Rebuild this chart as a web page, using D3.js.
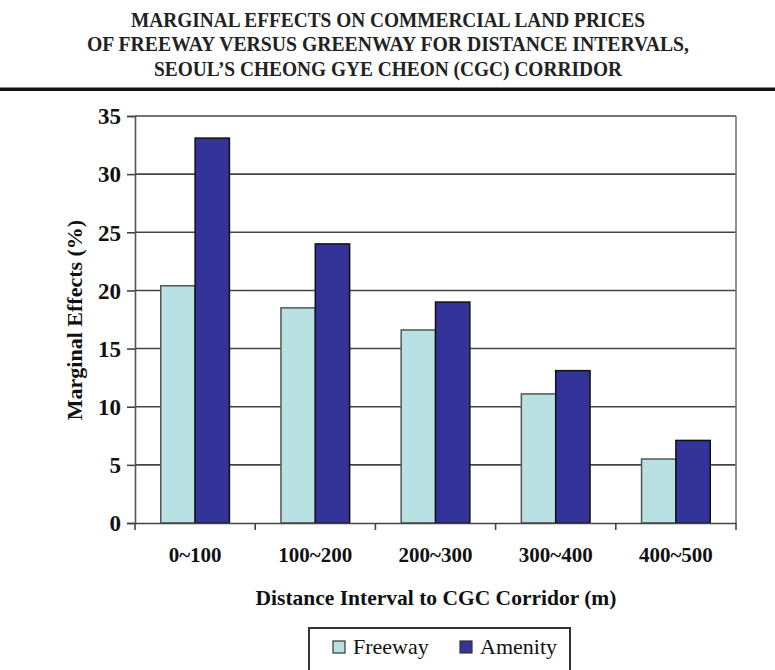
<!DOCTYPE html>
<html>
<head>
<meta charset="utf-8">
<script src="https://cdn.jsdelivr.net/npm/d3@7"></script>
<style>
  html, body { margin: 0; padding: 0; background: #fff; }
  svg { display: block; }
</style>
</head>
<body>
<svg id="chart" width="775" height="670"></svg>
<script>
const titleLines = [
  "MARGINAL EFFECTS ON COMMERCIAL LAND PRICES",
  "OF FREEWAY VERSUS GREENWAY FOR DISTANCE INTERVALS,",
  "SEOUL\u2019S CHEONG GYE CHEON (CGC) CORRIDOR"
];
const categories = ["0~100", "100~200", "200~300", "300~400", "400~500"];
const seriesNames = ["Freeway", "Amenity"];
const freeway = [20.4, 18.5, 16.6, 11.1, 5.5];
const amenity = [33.1, 24.0, 19.0, 13.1, 7.1];
const yTicks = [0, 5, 10, 15, 20, 25, 30, 35];
const yTitle = "Marginal Effects (%)";
const xTitle = "Distance Interval to CGC Corridor (m)";

const FONT = "'Liberation Serif', 'Times New Roman', serif";
const colors = { Freeway: "#b9e1e4", Amenity: "#333399" };
const strokes = { Freeway: "#555", Amenity: "#111" };

const svg = d3.select("#chart");
const m = { left: 135, right: 736, top: 116, bottom: 523 };

// Title
const titleWidths = [514, 602, 468];
const titleY = [27, 51, 76];
titleLines.forEach((t, i) => {
  svg.append("text")
    .attr("x", 388).attr("y", titleY[i])
    .attr("text-anchor", "middle")
    .attr("font-family", FONT)
    .attr("font-size", 20)
    .attr("font-weight", "bold")
    .attr("fill", "#222")
    .attr("textLength", titleWidths[i])
    .attr("lengthAdjust", "spacingAndGlyphs")
    .text(t);
});
svg.append("rect").attr("x", 0).attr("y", 87.5).attr("width", 775).attr("height", 3.5).attr("fill", "#111");

const x = d3.scaleBand().domain(categories).range([m.left, m.right]).paddingInner(0).paddingOuter(0);
const xs = d3.scaleBand().domain(seriesNames).range([0, x.bandwidth()]).paddingInner(0).paddingOuter(0.75);
const y = d3.scaleLinear().domain([0, 35]).range([m.bottom, m.top]);

// Gridlines
svg.append("g").selectAll("line").data(yTicks.filter(d => d > 0)).join("line")
  .attr("x1", m.left).attr("x2", m.right)
  .attr("y1", d => y(d)).attr("y2", d => y(d))
  .attr("stroke", "#444").attr("stroke-width", 1.6);

// Right border
svg.append("line").attr("x1", m.right).attr("x2", m.right).attr("y1", m.top).attr("y2", m.bottom)
  .attr("stroke", "#777").attr("stroke-width", 1.6);

// Bars
const data = categories.map((c, i) => ({ c, vals: [
  { s: "Freeway", v: freeway[i] }, { s: "Amenity", v: amenity[i] }] }));
const g = svg.append("g");
data.forEach(d => {
  g.selectAll(null).data(d.vals).join("rect")
    .attr("x", v => x(d.c) + xs(v.s))
    .attr("y", v => y(v.v))
    .attr("width", xs.bandwidth())
    .attr("height", v => y(0) - y(v.v))
    .attr("fill", v => colors[v.s])
    .attr("stroke", v => strokes[v.s])
    .attr("stroke-width", 1.5);
});

// Y axis
const yAxis = d3.axisLeft(y).tickValues(yTicks).tickSize(8).tickPadding(6);
const yg = svg.append("g").attr("transform", `translate(${m.left},0)`).call(yAxis)
  .attr("font-family", FONT);
yg.select(".domain").attr("stroke", "#555").attr("stroke-width", 1.6);
yg.selectAll(".tick line").attr("stroke", "#444").attr("stroke-width", 1.6);
yg.selectAll(".tick text").attr("font-size", 23).attr("font-weight", "bold")
  .attr("font-family", FONT).attr("fill", "#111").attr("dy", "0.34em");

// X axis
const xAxis = d3.axisBottom(x).tickSize(0).tickPadding(24);
const xg = svg.append("g").attr("transform", `translate(0,${m.bottom})`).call(xAxis)
  .attr("font-family", FONT);
xg.select(".domain").attr("stroke", "#444").attr("stroke-width", 1.6);
xg.selectAll(".tick text").attr("font-size", 21).attr("font-weight", "bold")
  .attr("font-family", FONT).attr("fill", "#111");
// boundary ticks
const bounds = categories.map(c => x(c)).concat([m.right]);
svg.append("g").selectAll("line").data(bounds).join("line")
  .attr("x1", d => d).attr("x2", d => d)
  .attr("y1", m.bottom).attr("y2", m.bottom + 7)
  .attr("stroke", "#444").attr("stroke-width", 1.6);

// Axis titles
svg.append("text")
  .attr("transform", `translate(82,320) rotate(-90)`)
  .attr("text-anchor", "middle")
  .attr("font-family", FONT)
  .attr("font-size", 22).attr("font-weight", "bold").attr("fill", "#111")
  .text(yTitle);
svg.append("text")
  .attr("x", 436).attr("y", 605)
  .attr("text-anchor", "middle")
  .attr("font-family", FONT)
  .attr("font-size", 21.5).attr("font-weight", "bold").attr("fill", "#111")
  .text(xTitle);

// Legend
const lg = svg.append("g");
lg.append("rect").attr("x", 309).attr("y", 628).attr("width", 261).attr("height", 60)
  .attr("fill", "#fff").attr("stroke", "#333").attr("stroke-width", 2);
const legendX = [333, 460];
seriesNames.forEach((s, i) => {
  lg.append("rect").attr("x", legendX[i]).attr("y", 641).attr("width", 12).attr("height", 12)
    .attr("fill", colors[s]).attr("stroke", "#333").attr("stroke-width", 1.2);
  lg.append("text").attr("x", legendX[i] + 20).attr("y", 654)
    .attr("font-family", FONT)
    .attr("font-size", 22).attr("fill", "#111").text(s);
});
</script>
</body>
</html>
